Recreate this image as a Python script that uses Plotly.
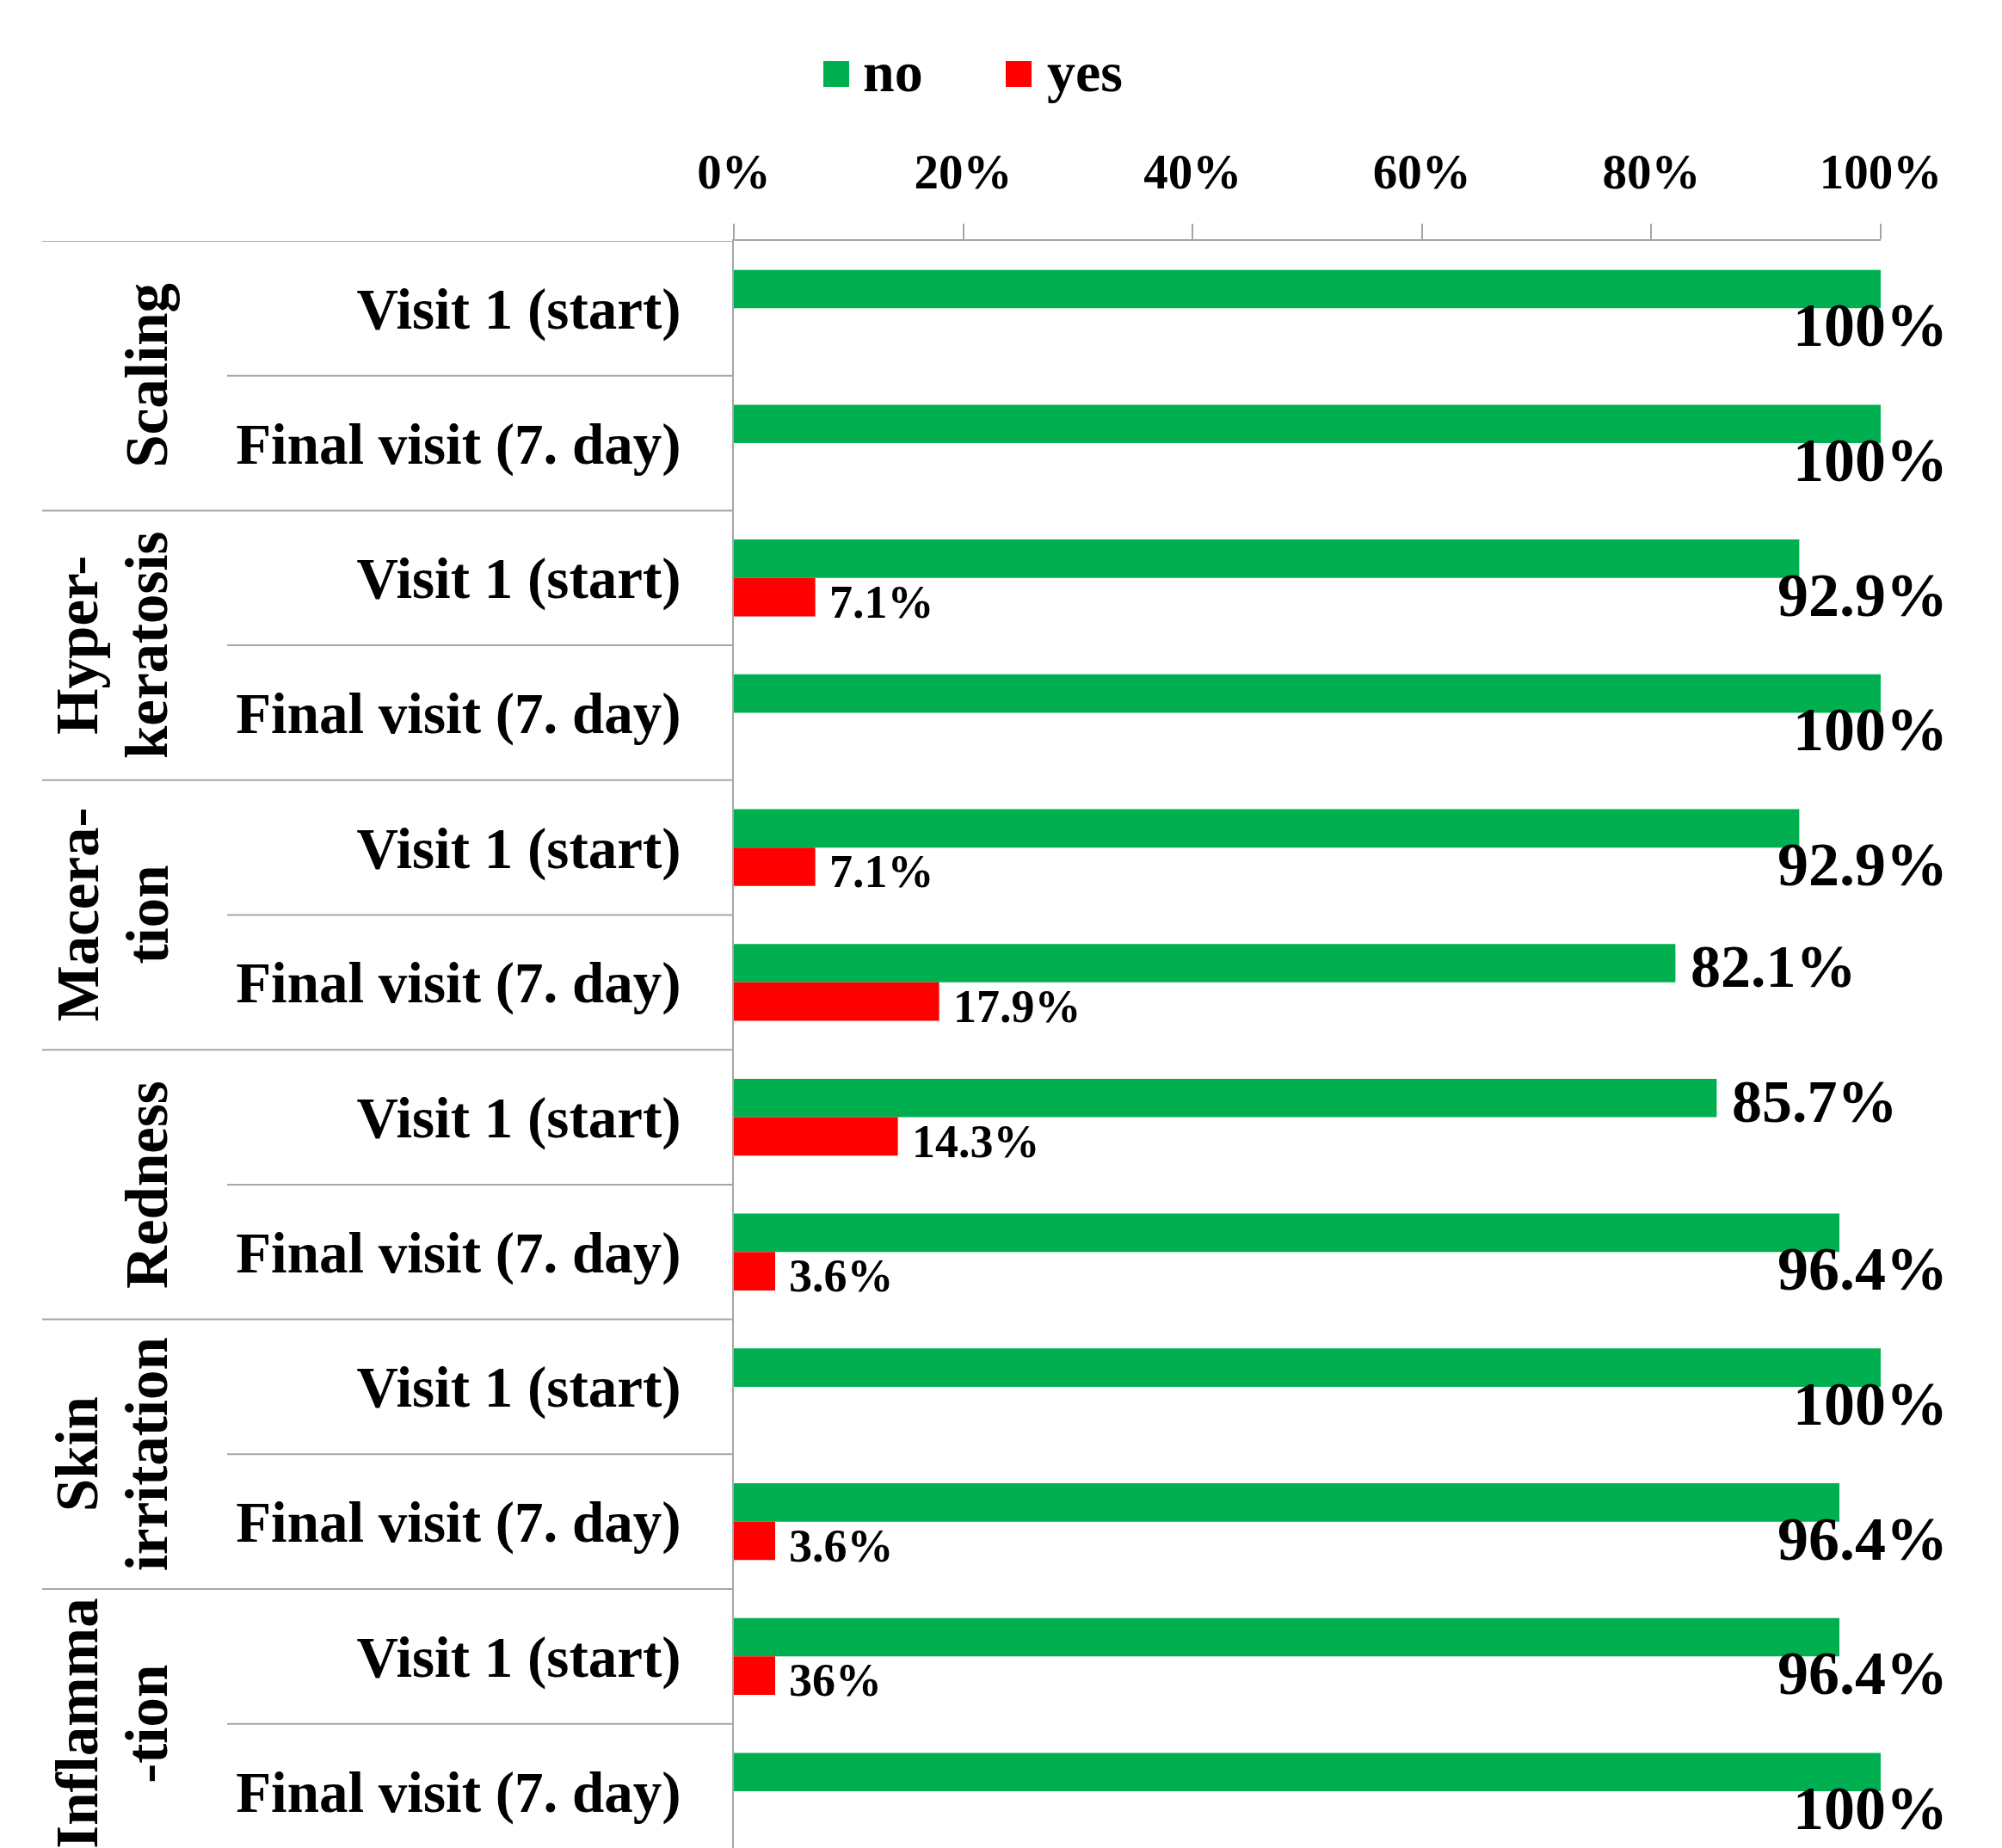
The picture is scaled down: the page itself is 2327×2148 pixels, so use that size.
import plotly.graph_objects as go

# data
groups = ["Scaling", "Hyperkeratosis", "Maceration", "Redness", "Skin irritation", "Inflammation"]
group_labels = ["Scaling", "Hyper-<br>keratosis", "Macera-<br>tion", "Redness", "Skin<br>irritation", "Inflamma<br>-tion"]
visits = ["Visit 1 (start)", "Final visit (7. day)"]

no_values = [100, 100, 92.9, 100, 92.9, 82.1, 85.7, 96.4, 100, 96.4, 96.4, 100]
yes_values = [0, 0, 7.1, 0, 7.1, 17.9, 14.3, 3.6, 0, 3.6, 3.6, 0]
no_labels = ["100%", "100%", "92.9%", "100%", "92.9%", "82.1%", "85.7%", "96.4%", "100%", "96.4%", "96.4%", "100%"]
yes_labels = ["", "", "7.1%", "", "7.1%", "17.9%", "14.3%", "3.6%", "", "3.6%", "36%", ""]

x_ticks = [0, 20, 40, 60, 80, 100]

GREEN = "#00B050"
RED = "#FF0000"
GRID = "#A6A6A6"
FONT = "Liberation Serif"

W, H = 2327, 2148
OFF = 8  # page body margin in the browser
PLOT_X0, PLOT_X1, PLOT_Y0 = 853, 2186, 280  # page pixels of the plot area
ROW_H = 156.7

L = PLOT_X0 - OFF
R = W - PLOT_X1 + OFF
T = PLOT_Y0 - OFF
B = 0
plot_h = H - T - B

rows = [f"{g}|{v}" for g in groups for v in visits]
row_text = [v for g in groups for v in visits]


def px_x(px):
    # page pixel -> paper x
    return (px - PLOT_X0) / (PLOT_X1 - PLOT_X0)


def px_y(py):
    # page pixel -> paper y
    return 1 - (py - PLOT_Y0) / plot_h


fig = go.Figure()
fig.add_trace(go.Bar(y=rows, x=no_values, name="no", orientation="h",
                     marker=dict(color=GREEN, line=dict(width=0))))
fig.add_trace(go.Bar(y=rows, x=yes_values, name="yes", orientation="h",
                     marker=dict(color=RED, line=dict(width=0))))

annotations = []
# value labels for "no"
for r, v, t in zip(rows, no_values, no_labels):
    if v >= 90:
        annotations.append(dict(x=100, y=r, xref="x", yref="y", text=t, showarrow=False,
                                xanchor="right", yanchor="middle", xshift=80, yshift=-20,
                                font=dict(size=72, color="black")))
    else:
        annotations.append(dict(x=v, y=r, xref="x", yref="y", text=t, showarrow=False,
                                xanchor="left", yanchor="middle", xshift=16, yshift=18,
                                font=dict(size=70, color="black")))
# value labels for "yes"
for r, v, t in zip(rows, yes_values, yes_labels):
    if t:
        annotations.append(dict(x=v, y=r, xref="x", yref="y", text=t, showarrow=False,
                                xanchor="left", yanchor="middle", xshift=14, yshift=-28,
                                font=dict(size=54, color="black")))

# group labels (rotated), one annotation per line for tighter line spacing
for i, g in enumerate(group_labels):
    parts = g.split("<br>")
    xs = [171] if len(parts) == 1 else [90, 171]
    for part, xp in zip(parts, xs):
        annotations.append(dict(x=px_x(xp), y=2 * i + 0.5, xref="paper", yref="y", text=part,
                                showarrow=False, textangle=-90, xanchor="center", yanchor="middle",
                                font=dict(size=69, color="black")))

# legend drawn by hand so the swatches match the original size
shapes = []
for name, color, x0, xt in [("no", GREEN, 957, 1001), ("yes", RED, 1169, 1215)]:
    shapes.append(dict(type="rect", xref="paper", yref="paper",
                       x0=px_x(x0), x1=px_x(x0 + 30), y0=px_y(101), y1=px_y(71),
                       fillcolor=color, line=dict(width=0)))
    annotations.append(dict(x=px_x(xt), y=px_y(84), xref="paper", yref="paper", text=name,
                            showarrow=False, xanchor="left", yanchor="middle",
                            font=dict(size=66, color="black")))

# separator lines on the category side
for k in range(len(rows)):
    x0 = px_x(49) if k % 2 == 0 else px_x(264)
    shapes.append(dict(type="line", xref="paper", yref="y", x0=x0, x1=0, y0=k - 0.5, y1=k - 0.5,
                       line=dict(color=GRID, width=2)))

rows_visible = plot_h / ROW_H

fig.update_layout(
    width=W,
    height=H,
    margin=dict(l=L, r=R, t=T, b=B),
    paper_bgcolor="white",
    plot_bgcolor="white",
    barmode="group",
    bargap=0.43,
    bargroupgap=0,
    showlegend=False,
    font=dict(family=FONT, weight="bold", color="black"),
    xaxis=dict(
        side="top",
        range=[0, 100],
        tickvals=x_ticks,
        ticktext=[f"{t}%" for t in x_ticks],
        ticks="outside",
        ticklen=18,
        tickwidth=2,
        tickcolor=GRID,
        ticklabelstandoff=18,
        tickfont=dict(size=57),
        showline=True,
        linecolor=GRID,
        linewidth=2,
        showgrid=False,
        zeroline=False,
        fixedrange=True,
    ),
    yaxis=dict(
        categoryorder="array",
        categoryarray=rows,
        tickvals=rows,
        ticktext=row_text,
        range=[rows_visible - 0.5, -0.5],
        ticks="",
        ticklabelstandoff=46,
        tickfont=dict(size=67),
        showline=True,
        linecolor=GRID,
        linewidth=2,
        showgrid=False,
        zeroline=False,
        fixedrange=True,
    ),
    annotations=annotations,
    shapes=shapes,
)

fig.write_html("out.html")
